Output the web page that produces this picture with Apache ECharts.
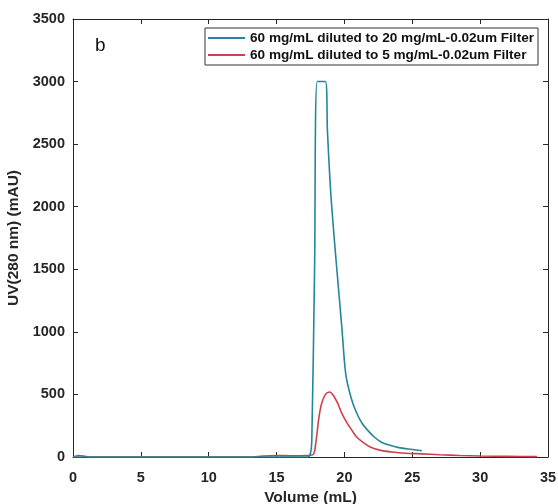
<!DOCTYPE html>
<html>
<head>
<meta charset="utf-8">
<script src="https://cdn.jsdelivr.net/npm/echarts@6/dist/echarts.min.js"></script>
<style>html,body{margin:0;padding:0;background:#fff;}#c{width:558px;height:504px;}</style>
</head>
<body>
<div id="c"></div>
<script>
// Volume (mL) and UV (mAU) for each series
const blueVol = [0, 5, 10, 15, 17.3, 17.5, 17.6, 17.8, 18.0, 18.6, 18.75, 19.0, 19.4, 19.8, 20.1, 20.5, 20.9, 21.3, 21.7, 22.2, 22.7, 23.3, 24.0, 25.0, 25.7];
const blueUV  = [0, 0, 0, 0, 0, 30, 150, 1500, 3000, 3000, 2600, 2100, 1550, 1050, 660, 470, 352, 270, 215, 160, 120, 95, 75, 60, 50];
const redVol = [0, 0.4, 0.8, 1.2, 5, 10, 13, 14, 15, 16, 17.2, 17.7, 17.9, 18.1, 18.3, 18.6, 18.9, 19.2, 19.5, 19.8, 20.2, 20.6, 20.9, 21.4, 21.9, 22.6, 23.5, 24.5, 25.7, 27, 28.5, 30, 32, 34.2];
const redUV  = [0, 12, 8, 0, 0, 0, 0, 8, 12, 10, 12, 20, 120, 300, 420, 500, 520, 490, 430, 350, 270, 205, 160, 115, 80, 55, 40, 30, 25, 18, 12, 8, 5, 3];
const seriesNames = ['60 mg/mL diluted to 20 mg/mL-0.02um Filter', '60 mg/mL diluted to 5 mg/mL-0.02um Filter'];
const xTicks = {min: 0, max: 35, interval: 5};
const yTicks = {min: 0, max: 3500, interval: 500};

const chart = echarts.init(document.getElementById('c'));
const font = 'Liberation Sans, Arial, sans-serif';
const axCol = '#262626';
const pair = (xs, ys) => xs.map((x, i) => [x, ys[i]]);
const plain = v => String(v);
const baseX = {
  type: 'value', min: xTicks.min, max: xTicks.max, interval: xTicks.interval,
  splitLine: {show: false},
  axisLine: {show: true, onZero: false, lineStyle: {color: axCol, width: 1}},
  axisTick: {show: true, inside: true, length: 5, lineStyle: {color: axCol}},
};
const baseY = {
  type: 'value', min: yTicks.min, max: yTicks.max, interval: yTicks.interval,
  splitLine: {show: false},
  axisLine: {show: true, onZero: false, lineStyle: {color: axCol, width: 1}},
  axisTick: {show: true, inside: true, length: 5, lineStyle: {color: axCol}},
};
chart.setOption({
  animation: false,
  backgroundColor: '#fff',
  title: {text: 'b', left: 90, top: 31, textStyle: {fontFamily: font, fontSize: 19, fontWeight: 'normal', color: '#111'}},
  grid: {left: 73, right: 10, top: 19, bottom: 47, containLabel: false, outerBoundsMode: 'none'},
  legend: {
    left: 205, top: 28, orient: 'vertical',
    borderColor: '#333', borderWidth: 1, padding: [3, 4, 3, 3], itemGap: 3,
    itemWidth: 37, itemHeight: 2, icon: 'rect',
    backgroundColor: '#fff',
    textStyle: {fontFamily: font, fontSize: 13.6, fontWeight: 'bold', color: '#111'},
    data: seriesNames
  },
  xAxis: [
    Object.assign({}, baseX, {
      position: 'bottom', name: 'Volume (mL)', nameLocation: 'middle', nameGap: 31,
      nameTextStyle: {fontFamily: font, fontSize: 15.5, fontWeight: 'bold', color: axCol},
      axisLabel: {fontFamily: font, fontSize: 14.5, fontWeight: 'bold', color: axCol, margin: 13, formatter: plain}
    }),
    Object.assign({}, baseX, {position: 'top', axisLabel: {show: false}})
  ],
  yAxis: [
    Object.assign({}, baseY, {
      position: 'left', name: 'UV(280 nm) (mAU)', nameLocation: 'middle', nameGap: 33,
      nameTextStyle: {fontFamily: font, fontSize: 15.5, fontWeight: 'bold', color: axCol},
      axisLabel: {fontFamily: font, fontSize: 14.5, fontWeight: 'bold', color: axCol, margin: 8, formatter: plain}
    }),
    Object.assign({}, baseY, {position: 'right', axisLabel: {show: false}})
  ],
  series: [
    {name: seriesNames[0], type: 'line', data: pair(blueVol, blueUV), showSymbol: false, symbol: 'none',
     smooth: 0.3, lineStyle: {color: '#23879b', width: 1.6}, itemStyle: {color: '#23879b'}, z: 3},
    {name: seriesNames[1], type: 'line', data: pair(redVol, redUV), showSymbol: false, symbol: 'none',
     smooth: 0.3, lineStyle: {color: '#d0404a', width: 1.6}, itemStyle: {color: '#d0404a'}, z: 2}
  ]
});
</script>
</body>
</html>
